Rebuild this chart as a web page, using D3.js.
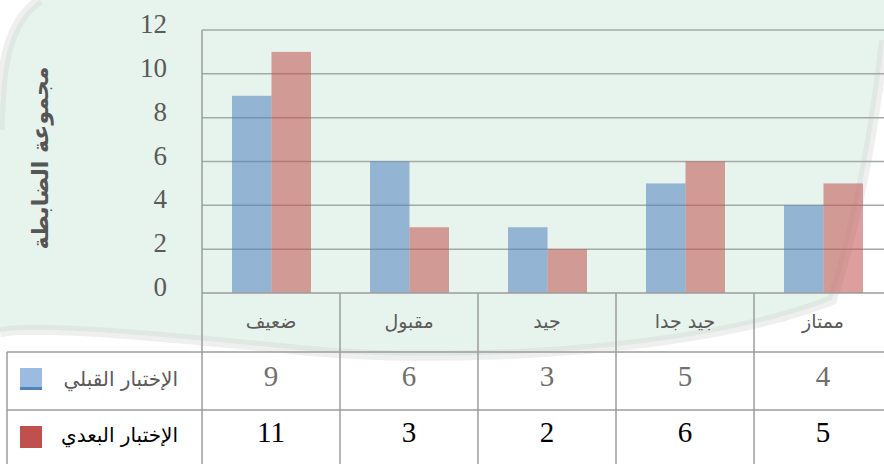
<!DOCTYPE html>
<html>
<head>
<meta charset="utf-8">
<script src="https://cdn.jsdelivr.net/npm/d3@7"></script>
<style>
  body { margin: 0; background: #fff; }
  svg { display: block; }
</style>
</head>
<body>
<div id="chart"></div>
<script>
const categories = ['ضعيف', 'مقبول', 'جيد', 'جيد جدا', 'ممتاز'];
const seriesNames = ['الإختبار القبلي', 'الإختبار البعدي'];
const preTest = [9, 6, 3, 5, 4];
const postTest = [11, 3, 2, 6, 5];
const yTicks = [0, 2, 4, 6, 8, 10, 12];
const yTitle = 'مجموعة الضابطة';

const W = 884, H = 464;
const plotLeft = 202, plotTop = 30, plotBottom = 293;
const rowTop1 = 352, rowTop2 = 410;

const svg = d3.select('#chart').append('svg')
    .attr('width', W)
    .attr('height', H);

// faint watermark tint behind everything
const wm = svg.append('g');
wm.append('path')
    .attr('d', 'M0,130 C0,60 10,20 40,0 L884,0 L884,40 C872,150 852,240 832,300 C700,352 450,365 300,350 C150,335 40,325 0,332 Z')
    .attr('fill', '#e7f4ed');
wm.append('path')
    .attr('d', 'M0,130 C0,60 10,20 40,0 M884,40 C872,150 852,240 832,300 C700,352 450,365 300,350 C150,335 40,325 0,332')
    .attr('fill', 'none')
    .attr('stroke', '#d6d6d6')
    .attr('stroke-opacity', 0.4)
    .attr('stroke-width', 10);

const x = d3.scaleBand()
    .domain(categories)
    .range([plotLeft, plotLeft + 138 * categories.length]);

const x1 = d3.scaleBand()
    .domain(seriesNames)
    .range([30, 109]);

const y = d3.scaleLinear()
    .domain([0, 12])
    .range([plotBottom, plotTop]);

// gridlines
svg.append('g')
    .selectAll('line')
    .data(yTicks.filter(d => d > 0))
    .enter().append('line')
    .attr('x1', plotLeft)
    .attr('x2', W)
    .attr('y1', d => y(d))
    .attr('y2', d => y(d))
    .attr('stroke', '#a3aaa6')
    .attr('stroke-width', 1.5);

// y tick labels
svg.append('g')
    .selectAll('text')
    .data(yTicks)
    .enter().append('text')
    .attr('x', 167)
    .attr('y', d => y(d) + 3)
    .attr('text-anchor', 'end')
    .attr('font-family', 'Liberation Serif')
    .attr('font-size', 27)
    .attr('fill', '#5a5a5a')
    .text(d => d);

// bars
const colors = ['#4f81bd', '#c0504d'];
const rows = [preTest, postTest];
const barData = [];
categories.forEach((c, i) => {
    seriesNames.forEach((s, j) => barData.push({ cat: c, s: s, v: rows[j][i], j: j }));
});

svg.append('g')
    .selectAll('rect')
    .data(barData)
    .enter().append('rect')
    .attr('x', d => x(d.cat) + x1(d.s))
    .attr('width', x1.bandwidth())
    .attr('y', d => y(d.v))
    .attr('height', d => plotBottom - y(d.v))
    .attr('fill', d => colors[d.j])
    .attr('fill-opacity', 0.55);

// table lines
const lineColor = '#9c9c9c';
const tbl = svg.append('g').attr('stroke', lineColor).attr('stroke-width', 1.5);
tbl.append('line').attr('x1', plotLeft).attr('x2', W).attr('y1', plotBottom).attr('y2', plotBottom);
tbl.append('line').attr('x1', 7).attr('x2', W).attr('y1', rowTop1).attr('y2', rowTop1);
tbl.append('line').attr('x1', 7).attr('x2', W).attr('y1', rowTop2).attr('y2', rowTop2);
tbl.append('line').attr('x1', 7).attr('x2', 7).attr('y1', rowTop1).attr('y2', H);
tbl.append('line').attr('x1', plotLeft).attr('x2', plotLeft).attr('y1', plotTop).attr('y2', H);
tbl.selectAll('.sep')
    .data(categories.slice(1))
    .enter().append('line')
    .attr('class', 'sep')
    .attr('x1', d => x(d))
    .attr('x2', d => x(d))
    .attr('y1', plotBottom)
    .attr('y2', H);

// category labels
svg.append('g')
    .selectAll('text')
    .data(categories)
    .enter().append('text')
    .attr('x', d => x(d) + x.bandwidth() / 2)
    .attr('y', 328)
    .attr('text-anchor', 'middle')
    .attr('font-family', 'DejaVu Sans')
    .attr('font-size', 19)
    .attr('fill', '#5a5a5a')
    .text(d => d);

// data rows
const rowY = [386, 442];
const rowFill = ['#707070', '#000'];
rows.forEach((vals, j) => {
    svg.append('g')
        .selectAll('text')
        .data(vals)
        .enter().append('text')
        .attr('x', (d, i) => x(categories[i]) + x.bandwidth() / 2)
        .attr('y', rowY[j])
        .attr('text-anchor', 'middle')
        .attr('font-family', 'Liberation Serif')
        .attr('font-size', 29)
        .attr('fill', rowFill[j])
        .text(d => d);

    svg.append('text')
        .attr('x', 178)
        .attr('y', rowY[j])
        .attr('text-anchor', 'end')
        .attr('font-family', 'DejaVu Sans')
        .attr('font-size', 20)
        .attr('fill', j === 0 ? '#5a5a5a' : '#000')
        .text(seriesNames[j]);
});

// legend keys
svg.append('rect').attr('x', 20).attr('y', 368).attr('width', 22).attr('height', 22).attr('fill', '#9bbbe0');
svg.append('rect').attr('x', 20).attr('y', 387).attr('width', 22).attr('height', 3).attr('fill', '#4f81bd');
svg.append('rect').attr('x', 20).attr('y', 426).attr('width', 22).attr('height', 22).attr('fill', '#c0504d');

// y title
svg.append('text')
    .attr('transform', 'translate(48,158) rotate(-90)')
    .attr('text-anchor', 'middle')
    .attr('font-family', 'DejaVu Sans')
    .attr('font-weight', 'bold')
    .attr('font-size', 22)
    .attr('fill', '#555')
    .text(yTitle);
</script>
</body>
</html>
